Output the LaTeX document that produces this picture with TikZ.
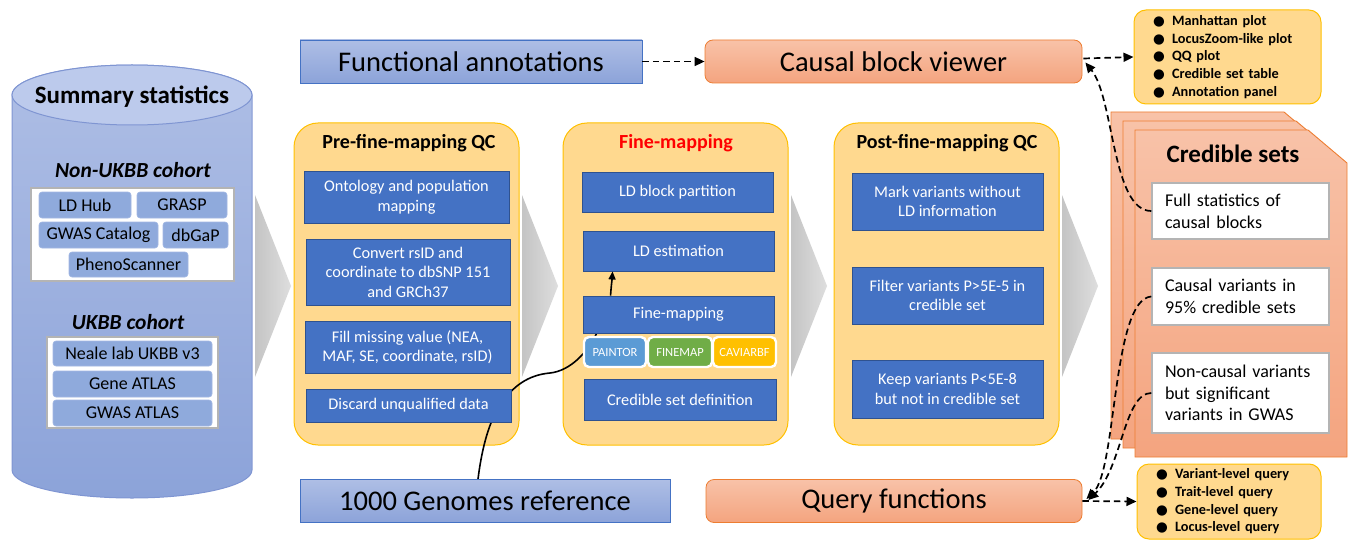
\documentclass[tikz,border=0pt]{standalone}
\usepackage{fontspec}
\setmainfont{Carlito}
\newfontfamily\symfont{DejaVu Sans}
\usetikzlibrary{arrows.meta,calc}
\pgfdeclarelayer{back}
\pgfdeclarelayer{mid}
\pgfsetlayers{back,mid,main}

\definecolor{panelfill}{HTML}{FFD98F}
\definecolor{paneledge}{HTML}{FFC000}
\definecolor{stepblue}{HTML}{4472C4}
\definecolor{stepedge}{HTML}{2F528F}
\definecolor{cohortblue}{HTML}{8FAADC}
\definecolor{cohortedge}{HTML}{A3B8E3}
\definecolor{salmonA}{HTML}{F8C2A8}
\definecolor{salmonB}{HTML}{F4A47F}
\definecolor{salmonedge}{HTML}{ED7D31}
\definecolor{lightblueA}{HTML}{AEBEE5}
\definecolor{lightblueB}{HTML}{8CA3D9}
\definecolor{cylcap}{HTML}{BCCAEC}
\definecolor{cyledge}{HTML}{7F95D2}
\definecolor{toolA}{HTML}{5B9BD5}
\definecolor{toolB}{HTML}{70AD47}
\definecolor{toolC}{HTML}{FFC000}
\definecolor{frameGray}{HTML}{B4B4B4}
\definecolor{chevA}{HTML}{C4C4C4}
\definecolor{chevB}{HTML}{DEDEDE}

\newcommand\fsz[2]{\fontsize{#1}{#2}\selectfont}
\newcommand\blt{\makebox[19pt][l]{\symfont\fontsize{13.5}{13.5}\selectfont ●}}

\tikzset{
  panel/.style={draw=paneledge, fill=panelfill, line width=1pt, rounded corners=24pt,
    minimum width=225pt, minimum height=322pt, inner sep=0pt},
  paneltitle/.style={font=\bfseries\fsz{20}{24}, inner sep=0pt},
  stepbox/.style={draw=stepedge, fill=stepblue, text=white, line width=0.9pt, align=center,
    inner sep=0pt, font=\fsz{16.3}{19.5}},
  cohortbox/.style={draw=cohortedge, fill=cohortblue, rounded corners=3pt, inner sep=0pt,
    line width=0.6pt, font=\fsz{18}{21}},
  cohortframe/.style={draw=frameGray, fill=white, line width=1.4pt, inner sep=0pt},
  cohorttitle/.style={font=\bfseries\itshape\fsz{21.5}{25}, inner sep=0pt},
  toolbox/.style={draw=white, line width=2.4pt, rounded corners=5pt, text=white,
    inner sep=0pt, font=\fsz{12.5}{15}, minimum height=30pt},
  bluebar/.style={draw=stepblue, top color=lightblueA, bottom color=lightblueB,
    line width=0.8pt, inner sep=0pt, font=\fsz{28.5}{32}, minimum height=43pt},
  salmonbar/.style={draw=salmonedge, top color=salmonA, bottom color=salmonB,
    line width=0.8pt, rounded corners=8pt, inner sep=0pt, font=\fsz{28.5}{32}, minimum height=43pt},
  listbox/.style={draw=paneledge, fill=panelfill, rounded corners=12pt, line width=1pt,
    align=left, inner ysep=0pt, font=\bfseries\fsz{14.3}{17.6}},
  setbox/.style={draw=frameGray, fill=white, line width=1.4pt, align=left, inner xsep=13pt,
    inner ysep=0pt, text width=151pt, minimum width=177pt, font=\fsz{18}{21.7}},
  page/.style={draw=salmonedge, top color=salmonA, bottom color=salmonB, line width=0.9pt},
  chevron/.style={left color=chevA, right color=chevB},
  dasharrow/.style={line width=1.7pt, dash pattern=on 6.5pt off 4pt,
    -{Triangle[length=10pt,width=9pt]}},
  linkline/.style={line width=1.6pt},
}

\begin{document}
\begin{tikzpicture}[x=1pt, y=-1pt]
\useasboundingbox (0,0) rectangle (1348,540);

% ---------- summary statistics cylinder ----------
\path[draw=cyledge, line width=1pt, top color=lightblueA, bottom color=lightblueB]
  (12,95) -- (12,470) arc[start angle=180, end angle=360, x radius=120pt, y radius=28pt]
  -- (252,95) arc[start angle=0, end angle=180, x radius=120pt, y radius=30pt] -- cycle;
\path[draw=cyledge, line width=1pt, fill=cylcap] (132,95) ellipse[x radius=120pt, y radius=30pt];
\node[font=\bfseries\fsz{25}{30}, inner sep=0pt] (sumstat) at (132,97) {Summary statistics};

\node[cohorttitle] (nonukbb) at (133,170) {Non-UKBB cohort};
\node[cohortframe, minimum width=203pt, minimum height=93pt] (frameA) at (132.5,234.5) {};
\node[cohortbox, minimum width=92pt, minimum height=26pt] (ldhub) at (85,205) {LD Hub};
\node[cohortbox, minimum width=90pt, minimum height=26pt] (grasp) at (182,205) {GRASP};
\node[cohortbox, minimum width=119pt, minimum height=26pt] (gwascat) at (98.5,235) {GWAS Catalog};
\node[cohortbox, minimum width=65pt, minimum height=26pt] (dbgap) at (195.5,235) {dbGaP};
\node[cohortbox, minimum width=119pt, minimum height=25pt] (pheno) at (128.5,264.5) {PhenoScanner};

\node[cohorttitle] (ukbb) at (128,322) {UKBB cohort};
\node[cohortframe, minimum width=171pt, minimum height=91pt] (frameB) at (132.5,382.5) {};
\node[cohortbox, minimum width=159pt, minimum height=25pt] (neale) at (132.5,353.5) {Neale lab UKBB v3};
\node[cohortbox, minimum width=159pt, minimum height=26pt] (geneatlas) at (132.5,384) {Gene ATLAS};
\node[cohortbox, minimum width=159pt, minimum height=26pt] (gwasatlas) at (132.5,413) {GWAS ATLAS};

% ---------- flow chevrons and stage panels ----------
\begin{pgfonlayer}{back}
  \path[chevron] (255,195) -- (291,286) -- (255,377) -- cycle;
  \path[chevron] (522,195) -- (558,286) -- (522,377) -- cycle;
  \path[chevron] (791,195) -- (827,286) -- (791,377) -- cycle;
  \path[chevron] (1062,195) -- (1098,286) -- (1062,377) -- cycle;
  \node[panel] (panelA) at (406.5,284) {};
  \node[panel] (panelB) at (675.5,284) {};
  \node[panel] (panelC) at (946.5,284) {};
\end{pgfonlayer}

\node[paneltitle] (titleA) at (409,143) {Pre-fine-mapping QC};
\node[paneltitle, text=red] (titleB) at (676,143) {Fine-mapping};
\node[paneltitle] (titleC) at (947,143) {Post-fine-mapping QC};

% pre-fine-mapping QC steps
\node[stepbox, minimum width=205pt, minimum height=52pt] (onto) at (406.5,197)
  {Ontology and population\\mapping};
\node[stepbox, minimum width=204pt, minimum height=66pt] (conv) at (408,272)
  {Convert rsID and\\coordinate to dbSNP 151\\and GRCh37};
\node[stepbox, minimum width=205pt, minimum height=52pt] (fill) at (407.5,347)
  {Fill missing value (NEA,\\MAF, SE, coordinate, rsID)};
\node[stepbox, minimum width=205pt, minimum height=33pt] (discard) at (408.5,405.5)
  {Discard unqualified data};

% fine-mapping steps
\node[stepbox, minimum width=191pt, minimum height=40pt] (ldblock) at (677.5,192) {LD block partition};
\node[stepbox, minimum width=191pt, minimum height=40pt] (ldest) at (678.5,251) {LD estimation};
\node[stepbox, minimum width=191pt, minimum height=37pt] (fm) at (678.5,314.5) {Fine-mapping};
\node[toolbox, fill=toolA, minimum width=62pt] (paintor) at (615,352) {PAINTOR};
\node[toolbox, fill=toolB, minimum width=64pt] (finemap) at (680,352) {FINEMAP};
\node[toolbox, fill=toolC, minimum width=63pt] (caviar) at (744.5,352) {CAVIARBF};
\node[stepbox, minimum width=192pt, minimum height=41pt] (csdef) at (680,399.5) {Credible set definition};

% post-fine-mapping QC steps
\node[stepbox, minimum width=191pt, minimum height=57pt] (mark) at (947.5,201.5)
  {Mark variants without\\LD information};
\node[stepbox, minimum width=191pt, minimum height=57pt] (filter) at (947.5,295.5)
  {Filter variants P>5E-5 in\\credible set};
\node[stepbox, minimum width=191pt, minimum height=58pt] (keep) at (947.5,389)
  {Keep variants P<5E-8\\but not in credible set};

% ---------- credible sets page stack ----------
\path[page] (1111,112) -- (1284,112) -- (1323,145) -- (1323,439) -- (1111,439) -- cycle;
\path[page] (1123,121) -- (1296,121) -- (1335,154) -- (1335,448) -- (1123,448) -- cycle;
\path[page] (1135,130) -- (1308,130) -- (1347,163) -- (1347,457) -- (1135,457) -- cycle;
\node[font=\bfseries\fsz{25}{30}, inner sep=0pt] (credtitle) at (1233,154) {Credible sets};
\node[setbox, minimum height=56pt] (fullstat) at (1240.5,211) {Full statistics of\\causal blocks};
\node[setbox, minimum height=57pt] (causal) at (1240.5,296.5) {Causal variants in\\95\% credible sets};
\node[setbox, minimum height=80pt] (noncausal) at (1240.5,393)
  {Non-causal variants\\but significant\\variants in GWAS};

% ---------- resources and web views ----------
\node[bluebar, minimum width=342pt] (funcann) at (471,61.5) {Functional annotations};
\node[salmonbar, minimum width=377pt] (viewer) at (893.5,61.5) {Causal block viewer};
\node[bluebar, minimum width=370pt] (kg) at (485,501) {1000 Genomes reference};
\node[salmonbar, minimum width=376pt] (query) at (894,501) {Query functions};

\node[listbox, minimum width=187pt, minimum height=94pt, inner xsep=19pt, text width=149pt]
  (viewlist) at (1227.5,57)
  {\blt Manhattan plot\\\blt LocusZoom-like plot\\\blt QQ plot\\\blt Credible set table\\\blt Annotation panel};
\node[listbox, minimum width=184pt, minimum height=75pt, inner xsep=19pt, text width=146pt]
  (querylist) at (1229,501.5)
  {\blt Variant-level query\\\blt Trait-level query\\\blt Gene-level query\\\blt Locus-level query};

% ---------- connectors ----------
\begin{pgfonlayer}{mid}
  \draw[linkline] ($(kg.north)+(-7,0)$) .. controls (481,455) and (487,425) .. (500,405)
    .. controls (513,386) and (528,375) .. (550,373)
    .. controls (570,371) and (588,352) .. ($(fm.south west)+(14,0)$);
\end{pgfonlayer}
\draw[linkline, -{Triangle[length=8pt,width=7pt]}] ($(fm.north west)+(28,0)$)
  .. controls (611,288) and (612,280) .. ($(ldest.south west)+(30,0)$);

\draw[dasharrow] (funcann.east) -- (viewer.west);
\draw[dasharrow] ($(viewer.east)+(1,-3)$) -- (viewlist.west);
\draw[dasharrow] (fullstat.west) .. controls (1112,211) and (1114,98) .. ($(viewer.east)+(3,1)$);
\draw[dasharrow] (query.east) -- (querylist.west);
\draw[dasharrow] (causal.west) .. controls (1112,299) and (1117,470) .. ($(query.east)+(4,-2)$);
\draw[dasharrow] (noncausal.west) .. controls (1124,393) and (1122,468) .. ($(query.east)+(6,-1)$);
\end{tikzpicture}
\end{document}
